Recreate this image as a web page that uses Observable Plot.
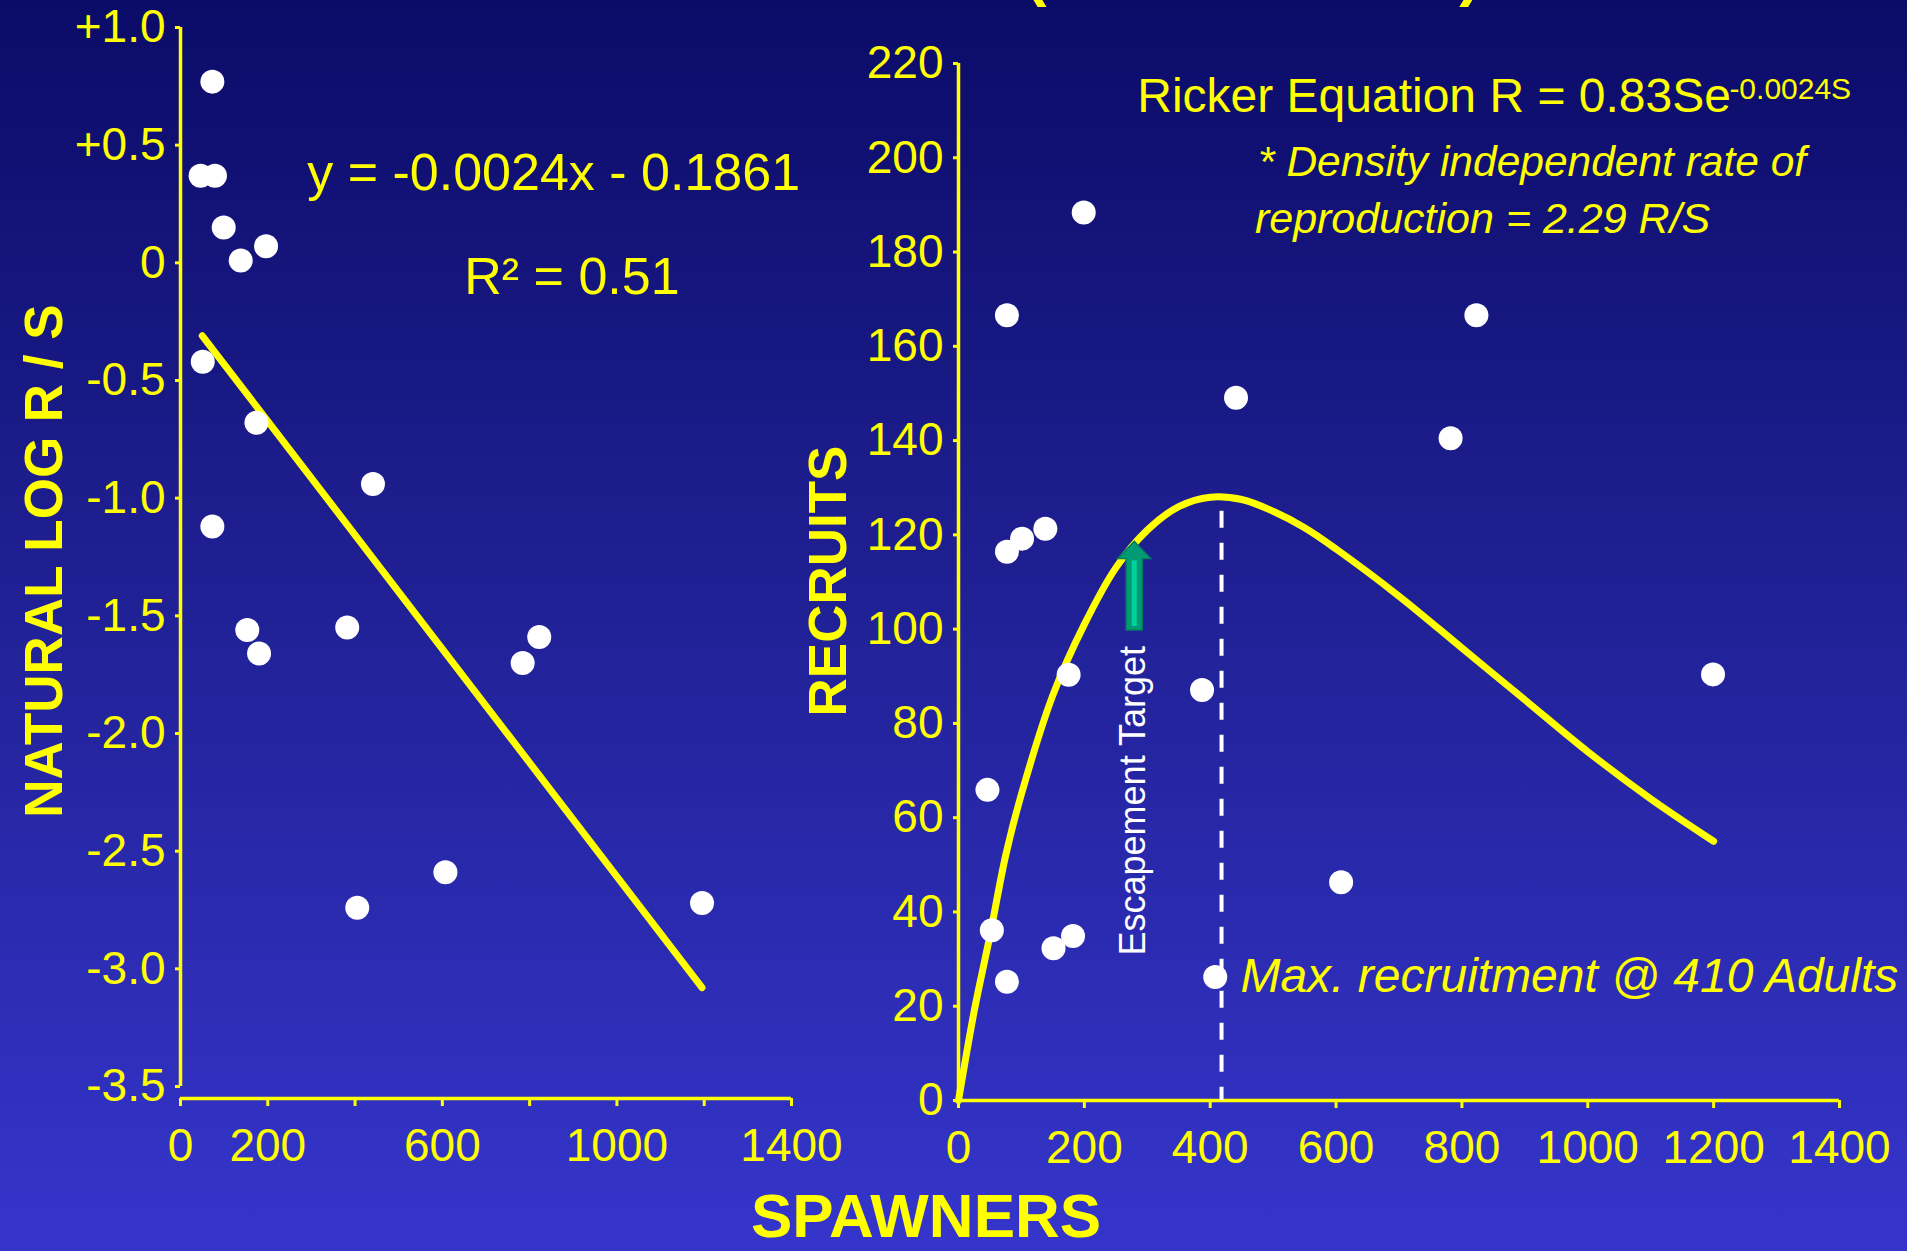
<!DOCTYPE html>
<html>
<head>
<meta charset="utf-8">
<script src="https://cdn.jsdelivr.net/npm/d3@7"></script>
<script src="https://cdn.jsdelivr.net/npm/@observablehq/plot@0.6"></script>
<style>
html, body { margin: 0; padding: 0; }
body {
  width: 1907px; height: 1251px; overflow: hidden; position: relative;
  background: linear-gradient(to bottom, #0b0b68 0%, #1f1f92 45%, #3535cc 100%);
  font-family: "Liberation Sans", Arial, sans-serif;
}
.layer { position: absolute; left: 0; top: 0; }
.lbl { position: absolute; color: #ffff00; font-weight: bold; white-space: nowrap; line-height: 1; transform: translate(-50%, -50%); }
.rot { transform: translate(-50%, -50%) rotate(-90deg); }
svg [aria-label="x-axis"] line, svg [aria-label="y-axis"] line,
svg [aria-label="x-axis tick"], svg [aria-label="y-axis tick"] { stroke-width: 3px; }
</style>
</head>
<body>
<div class="lbl" style="left:1036px; top:-28px; font-size:64px;">(</div>
<div class="lbl" style="left:1470px; top:-28px; font-size:64px;">)</div>
<div id="left" class="layer"></div>
<div id="right" class="layer"></div>
<div class="lbl rot" style="left:43px; top:561px; font-size:53px;">NATURAL LOG R / S</div>
<div class="lbl rot" style="left:827px; top:581px; font-size:53px;">RECRUITS</div>
<div class="lbl" style="left:926px; top:1216px; font-size:62px; line-height:0.8;">SPAWNERS</div>
<script>
// ---------- Left panel: natural log of recruits per spawner ----------
const lnSpawners = [73, 46, 79, 99, 196, 138, 51, 174, 441, 73, 153, 180, 382, 784, 822, 405, 607, 1195];
const lnRS       = [0.77, 0.37, 0.37, 0.15, 0.07, 0.01, -0.42, -0.68, -0.94, -1.12, -1.56, -1.66, -1.55, -1.70, -1.59, -2.74, -2.59, -2.72];
const fitS       = [50, 1195];
const fitLnRS    = [-0.31, -3.08];
const leftYTicks      = [1.0, 0.5, 0, -0.5, -1.0, -1.5, -2.0, -2.5, -3.0, -3.5];
const leftYTickLabels = ["+1.0", "+0.5", "0", "-0.5", "-1.0", "-1.5", "-2.0", "-2.5", "-3.0", "-3.5"];
const leftXTicks      = [0, 200, 400, 600, 800, 1000, 1200, 1400];
const leftXTickLabels = ["0", "200", "", "600", "", "1000", "", "1400"];
const eqText = "y = -0.0024x - 0.1861";
const r2Text = "R\u00B2 = 0.51";

// ---------- Right panel: recruits vs spawners (Ricker) ----------
const spawners = [199, 77, 823, 441, 782, 77, 101, 138, 175, 387, 1199, 46, 53, 77, 151, 182, 408, 608];
const recruits = [188.4, 166.6, 166.6, 149.1, 140.5, 116.4, 119.2, 121.3, 90.3, 87.1, 90.4, 65.9, 36.1, 25.2, 32.3, 34.9, 26.2, 46.3];
const curveS = [0, 25, 50, 75, 100, 150, 200, 250, 300, 350, 400, 450, 500, 550, 600, 700, 800, 900, 1000, 1100, 1200];
const curveR = [0, 19, 35, 52, 65, 86, 101, 113, 121, 126, 128, 127.5, 125, 121.5, 117, 107, 96, 85, 74, 64, 55];
const maxS = 418, maxR = 125;
const arrowS = 280, arrowFromR = 99.7, arrowToR = 118.5;
const rightXTicks = [0, 200, 400, 600, 800, 1000, 1200, 1400];
const rightYTicks = [0, 20, 40, 60, 80, 100, 120, 140, 160, 180, 200, 220];
const rickerText = "Ricker Equation R = 0.83Se";
const rickerExp = "-0.0024S";
const noteLine1 = "* Density independent rate of";
const noteLine2 = "reproduction = 2.29 R/S";
const maxText = "Max. recruitment @ 410 Adults";
const escText = "Escapement Target";

const W = 1907, H = 1251;
const yellow = "#ffff00";
const font = "'Liberation Sans', Arial, sans-serif";

const leftPlot = Plot.plot({
  width: W, height: H,
  marginLeft: 180, marginRight: W - 791, marginTop: 27, marginBottom: H - 1098,
  style: {background: "transparent", color: yellow, fontSize: "46px", fontFamily: font},
  x: {domain: [0, 1400], ticks: leftXTicks, tickFormat: d => leftXTickLabels[leftXTicks.indexOf(d)], tickSize: 8, tickPadding: 22, label: null},
  y: {domain: [-3.551, 1.0], ticks: leftYTicks, tickFormat: d => leftYTickLabels[leftYTicks.indexOf(d)], tickSize: 5, tickPadding: 10, label: null},
  marks: [
    Plot.ruleX([0], {y1: -3.5, y2: 1.0, stroke: yellow, strokeWidth: 3.5}),
    Plot.ruleY([-3.551], {x1: 0, x2: 1400, stroke: yellow, strokeWidth: 3.5}),
    Plot.line(fitS.map((s, i) => ({s, v: fitLnRS[i]})), {x: "s", y: "v", stroke: yellow, strokeWidth: 7}),
    Plot.dot(lnSpawners.map((s, i) => ({s, v: lnRS[i]})), {x: "s", y: "v", r: 12, fill: "white"}),
    Plot.text([{x: 855, y: 0.38, t: eqText}], {x: "x", y: "y", text: "t", fontSize: 52, fill: yellow}),
    Plot.text([{x: 897, y: -0.06, t: r2Text}], {x: "x", y: "y", text: "t", fontSize: 52, fill: yellow})
  ]
});
document.getElementById("left").appendChild(leftPlot);

function escapementArrow(index, scales) {
  const x = scales.x(arrowS), y0 = scales.y(arrowFromR), y1 = scales.y(arrowToR);
  const yh = y1 + 17;
  const ns = "http://www.w3.org/2000/svg";
  const g = document.createElementNS(ns, "g");
  const p = document.createElementNS(ns, "path");
  p.setAttribute("d", `M${x-8},${y0}L${x-8},${yh}L${x-16.5},${yh}L${x},${y1}L${x+16.5},${yh}L${x+8},${yh}L${x+8},${y0}Z`);
  p.setAttribute("fill", "#009a74");
  p.setAttribute("stroke", "#00805f");
  p.setAttribute("stroke-width", "1.5");
  g.appendChild(p);
  const l = document.createElementNS(ns, "path");
  l.setAttribute("d", `M${x},${y0-4}L${x},${yh+2}`);
  l.setAttribute("stroke", "#00d39a");
  l.setAttribute("stroke-width", "5");
  g.appendChild(l);
  return g;
}

const rightPlot = Plot.plot({
  width: W, height: H,
  marginLeft: 958, marginRight: W - 1839, marginTop: 63, marginBottom: H - 1100,
  style: {background: "transparent", color: yellow, fontSize: "46px", fontFamily: font},
  x: {domain: [0, 1400], ticks: rightXTicks, tickFormat: "d", tickSize: 8, tickPadding: 22, label: null},
  y: {domain: [0, 220], ticks: rightYTicks, tickFormat: "d", tickSize: 5, tickPadding: 10, label: null},
  marks: [
    Plot.ruleX([0], {y1: 0, y2: 220, stroke: yellow, strokeWidth: 3.5}),
    Plot.ruleY([0], {x1: 0, x2: 1400, stroke: yellow, strokeWidth: 3.5}),
    Plot.ruleX([maxS], {y1: maxR, y2: 0, stroke: "white", strokeWidth: 4, strokeDasharray: "17,15"}),
    Plot.line(curveS.map((s, i) => ({s, r: curveR[i]})), {x: "s", y: "r", stroke: yellow, strokeWidth: 7, curve: "catmull-rom"}),
    escapementArrow,
    Plot.dot(spawners.map((s, i) => ({s, r: recruits[i]})), {x: "s", y: "r", r: 12, fill: "white"}),
    Plot.text([{x: 284, y: 213, t: rickerText}], {x: "x", y: "y", text: "t", fontSize: 48, fill: yellow, textAnchor: "start"}),
    Plot.text([{x: 1225, y: 214.5, t: rickerExp}], {x: "x", y: "y", text: "t", fontSize: 30, fill: yellow, textAnchor: "start"}),
    Plot.text([{x: 476, y: 199, t: noteLine1}], {x: "x", y: "y", text: "t", fontSize: 42.5, fontStyle: "italic", fill: yellow, textAnchor: "start"}),
    Plot.text([{x: 471, y: 187, t: noteLine2}], {x: "x", y: "y", text: "t", fontSize: 43, fontStyle: "italic", fill: yellow, textAnchor: "start"}),
    Plot.text([{x: 448, y: 26.2, t: maxText}], {x: "x", y: "y", text: "t", fontSize: 48, fontStyle: "italic", fill: yellow, textAnchor: "start"}),
    Plot.text([{x: 278, y: 63.6, t: escText}], {x: "x", y: "y", text: "t", fontSize: 36, rotate: -90, fill: "white"})
  ]
});
document.getElementById("right").appendChild(rightPlot);
</script>
</body>
</html>
